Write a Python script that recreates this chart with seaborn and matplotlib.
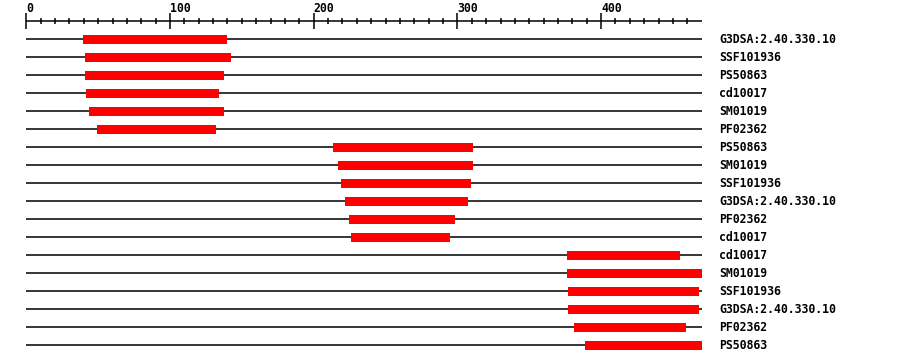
import matplotlib
matplotlib.use("Agg")
import matplotlib.pyplot as plt
import seaborn as sns
import numpy as np
import pandas as pd

# ---- data ----
protein_length = 470
labels = ["G3DSA:2.40.330.10", "SSF101936", "PS50863", "cd10017", "SM01019", "PF02362",
          "PS50863", "SM01019", "SSF101936", "G3DSA:2.40.330.10", "PF02362", "cd10017",
          "cd10017", "SM01019", "SSF101936", "G3DSA:2.40.330.10", "PF02362", "PS50863"]
starts = [39.5, 41, 41, 41.5, 43.6, 49.2,
          213.4, 216.9, 219, 221.8, 224.6, 225.9,
          376.3, 376.3, 377, 377, 381.2, 388.8]
ends = [139.7, 142.4, 137.6, 134.1, 137.6, 132,
        310.9, 310.9, 309.5, 307.4, 298.3, 294.9,
        454.9, 470, 468, 468, 459, 470]
major_ticks = [0, 100, 200, 300, 400]

df = pd.DataFrame({"label": labels, "start": starts, "end": ends})

sns.set_theme(style="white")
plt.rcParams["font.family"] = ["DejaVu Sans Mono", "DejaVu Sans"]

W, H = 900, 364
fig = plt.figure(figsize=(W / 100, H / 100), dpi=100)
ax = fig.add_axes([0, 0, 1, 1])
px = 1.437  # pixels per residue
x0 = 26.3
ax.set_xlim(-x0 / px, (W - x0) / px)
ax.set_ylim(H, 0)
ax.axis("off")

row_y0, row_step = 39.3, 18
ys = row_y0 + row_step * np.arange(len(df))

# track lines
ax.hlines(ys, 0, protein_length, color="black", linewidth=1.1, zorder=1)
# domain bars
ax.barh(ys, df["end"] - df["start"], left=df["start"], height=9,
        color="#ff0000", edgecolor="none", zorder=2)
# labels
for y, lab in zip(ys, df["label"]):
    ax.text(482, y, lab, fontsize=8.3, fontweight="bold", ha="left", va="center",
            color="black")

# ruler
axis_y = 21
ax.hlines(axis_y, 0, protein_length, color="black", linewidth=1.1)
minor = np.arange(0, protein_length, 10)
ax.vlines([m for m in minor if m % 100 != 0], axis_y - 3, axis_y + 3,
          color="black", linewidth=1.1)
ax.vlines(major_ticks, axis_y - 8, axis_y + 8, color="black", linewidth=1.1)
for t in major_ticks:
    ax.text(t, 8, str(t), fontsize=8.3, fontweight="bold", ha="left", va="center",
            color="black")

fig.savefig("out.png", dpi=100, facecolor="white")
